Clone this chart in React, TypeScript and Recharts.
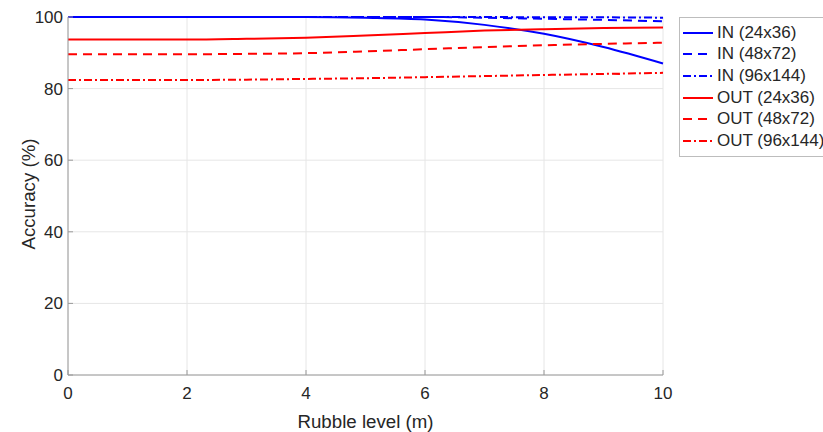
import React from "react";
import {
  LineChart,
  Line,
  XAxis,
  YAxis,
  CartesianGrid,
  Label,
} from "recharts";

const rubbleLevels = [0, 1, 2, 3, 4, 5, 6, 7, 8, 9, 10];
const in24x36 = [100, 100, 100, 100, 100, 99.8, 99.3, 97.8, 95.3, 91.6, 87];
const in48x72 = [100, 100, 100, 100, 100, 100, 100, 99.8, 99.5, 99.2, 98.8];
const in96x144 = [100, 100, 100, 100, 100, 100, 100, 100, 99.9, 99.9, 99.8];
const out24x36 = [93.7, 93.7, 93.7, 93.9, 94.2, 94.8, 95.5, 96.2, 96.6, 96.9, 97.1];
const out48x72 = [89.6, 89.6, 89.6, 89.7, 89.9, 90.4, 91, 91.6, 92.1, 92.5, 92.8];
const out96x144 = [82.4, 82.4, 82.4, 82.5, 82.7, 82.9, 83.2, 83.5, 83.8, 84.1, 84.4];

const xTicks = [0, 2, 4, 6, 8, 10];
const yTicks = [0, 20, 40, 60, 80, 100];

const series = [
  { key: "in24", name: "IN (24x36)", color: "#0000ff", dash: undefined },
  { key: "in48", name: "IN (48x72)", color: "#0000ff", dash: "9 6" },
  { key: "in96", name: "IN (96x144)", color: "#0000ff", dash: "8 3 2 3" },
  { key: "out24", name: "OUT (24x36)", color: "#ff0000", dash: undefined },
  { key: "out48", name: "OUT (48x72)", color: "#ff0000", dash: "9 6" },
  { key: "out96", name: "OUT (96x144)", color: "#ff0000", dash: "8 3 2 3" },
];

const data = rubbleLevels.map((x, i) => ({
  x,
  in24: in24x36[i],
  in48: in48x72[i],
  in96: in96x144[i],
  out24: out24x36[i],
  out48: out48x72[i],
  out96: out96x144[i],
}));

const FONT = "'Liberation Sans', Arial, Helvetica, sans-serif";
const TEXT = "#262626";

// legend drawn as a plain overlay so it takes no room from the plot
const LegendBox = () => (
  <div
    style={{
      position: "absolute",
      left: 679,
      top: 17,
      border: "1px solid #bdbdbd",
      background: "#fff",
      width: 150,
      paddingTop: 4,
      paddingBottom: 4,
      fontFamily: FONT,
      fontSize: 17,
      color: TEXT,
    }}
  >
    {series.map((s) => (
      <div
        key={s.key}
        style={{ display: "flex", alignItems: "center", height: 21.6 }}
      >
        <svg width={34} height={10} style={{ marginLeft: 3, flex: "none" }}>
          <line
            x1={0}
            y1={5}
            x2={30}
            y2={5}
            stroke={s.color}
            strokeWidth={2}
            strokeDasharray={s.dash}
          />
        </svg>
        <span style={{ whiteSpace: "nowrap" }}>{s.name}</span>
      </div>
    ))}
  </div>
);

export default function App() {
  return (
    <div
      style={{
        position: "absolute",
        left: 0,
        top: 0,
        width: 823,
        height: 432,
        overflow: "hidden",
        background: "#fff",
      }}
    >
      <LineChart
        width={823}
        height={432}
        data={data}
        margin={{ top: 17, right: 160, bottom: 0, left: 0 }}
        style={{ fontFamily: FONT }}
      >
        <CartesianGrid stroke="#e6e6e6" strokeWidth={1} />
        <XAxis
          dataKey="x"
          type="number"
          domain={[0, 10]}
          ticks={xTicks}
          height={57}
          stroke="#9a9a9a"
          tickSize={-5}
          tickMargin={17}
          tick={{ fill: TEXT, fontSize: 17 }}
        >
          <Label
            content={({ viewBox }: any) => (
              <text
                x={viewBox.x + viewBox.width / 2}
                y={428}
                textAnchor="middle"
                fill={TEXT}
                fontSize={18.7}
                fontFamily={FONT}
              >
                Rubble level (m)
              </text>
            )}
          />
        </XAxis>
        <YAxis
          type="number"
          domain={[0, 100]}
          ticks={yTicks}
          width={68}
          stroke="#9a9a9a"
          tickSize={-5}
          tickMargin={10}
          tick={{ fill: TEXT, fontSize: 17 }}
        >
          <Label
            content={() => (
              <text
                x={0}
                y={0}
                transform="translate(28,194) rotate(-90)"
                textAnchor="middle"
                dominantBaseline="central"
                fill={TEXT}
                fontSize={18.7}
                fontFamily={FONT}
              >
                Accuracy (%)
              </text>
            )}
          />
        </YAxis>
        {series.map((s) => (
          <Line
            key={s.key}
            dataKey={s.key}
            name={s.name}
            type="monotone"
            stroke={s.color}
            strokeWidth={2}
            strokeDasharray={s.dash}
            dot={false}
            activeDot={false}
            isAnimationActive={false}
          />
        ))}
      </LineChart>
      <LegendBox />
    </div>
  );
}
